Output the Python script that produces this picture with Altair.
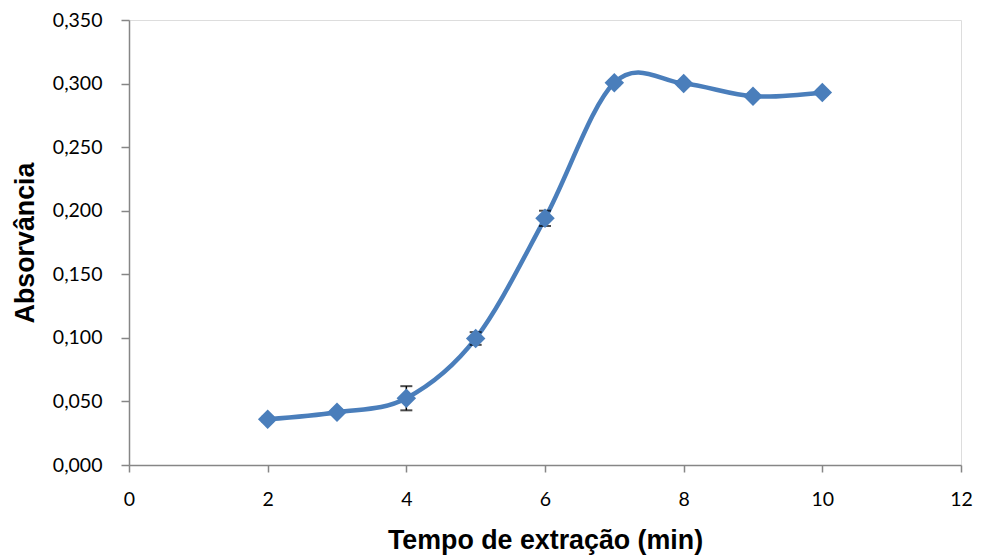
import altair as alt
import pandas as pd

tempo = [2, 3, 4, 5, 6, 7, 8, 9, 10]
absorv = [0.036, 0.0415, 0.0525, 0.0995, 0.194, 0.3007, 0.300, 0.290, 0.293]
erro = [0.002, 0.002, 0.0095, 0.005, 0.006, 0.002, 0.002, 0.002, 0.002]
x_ticks = [0, 2, 4, 6, 8, 10, 12]
y_ticks = [0, 0.05, 0.1, 0.15, 0.2, 0.25, 0.3, 0.35]

df = pd.DataFrame({"t": tempo, "a": absorv, "e": erro})
df["lo"] = df["a"] - df["e"]
df["hi"] = df["a"] + df["e"]

color = "#4a7ebb"
font = "Lato"
tfont = "Liberation Sans"

xaxis = alt.Axis(values=x_ticks, title="Tempo de extração (min)", format="d",
                 titleFont=tfont, titleFontSize=26.8, titleFontWeight="bold",
                 titleColor="black", labelFont=font, labelFontSize=19.5, labelColor="black",
                 domainColor="#868686", domainWidth=1.5, tickColor="#868686", tickSize=7,
                 tickWidth=1.5, grid=False, labelPadding=18, labelFlush=False,
                 titleY=75, titleBaseline="middle")
yaxis = alt.Axis(values=y_ticks,
                 labelExpr="replace(format(datum.value, '.3f'), '.', ',')",
                 title="Absorvância", titleFont=tfont, titleFontSize=26.8,
                 titleFontWeight="bold", titleColor="black", labelFont=font,
                 labelFontSize=19.5, labelColor="black", domainColor="#868686", domainWidth=1.5,
                 tickColor="#868686", tickSize=8, tickWidth=1.5, grid=False, labelPadding=19,
                 labelFlush=False, titleX=-104, titleBaseline="middle")

xs = alt.Scale(domain=[0, 12], nice=False)
ys = alt.Scale(domain=[0, 0.35], nice=False)

base = alt.Chart(df)
line = base.mark_line(color=color, strokeWidth=4.5, interpolate="cardinal").encode(
    x=alt.X("t:Q", scale=xs, axis=xaxis), y=alt.Y("a:Q", scale=ys, axis=yaxis))
rule = base.mark_rule(color="black", strokeWidth=1.5).encode(
    x=alt.X("t:Q", scale=xs, axis=xaxis), y=alt.Y("lo:Q", scale=ys, axis=yaxis), y2="hi:Q")
cap_lo = base.mark_tick(color="black", orient="horizontal", size=12, thickness=2).encode(
    x=alt.X("t:Q", scale=xs, axis=xaxis), y=alt.Y("lo:Q", scale=ys, axis=yaxis))
cap_hi = base.mark_tick(color="black", orient="horizontal", size=12, thickness=2).encode(
    x=alt.X("t:Q", scale=xs, axis=xaxis), y=alt.Y("hi:Q", scale=ys, axis=yaxis))
pts = base.mark_point(shape="diamond", filled=True, size=380, color=color, opacity=1).encode(
    x=alt.X("t:Q", scale=xs, axis=xaxis), y=alt.Y("a:Q", scale=ys, axis=yaxis))

chart = alt.layer(line, rule, cap_lo, cap_hi, pts).properties(
    width=832, height=445,
    autosize=alt.AutoSizeParams(type="none"),
    padding={"left": 121, "top": 12, "right": 12, "bottom": 92},
).configure_view(stroke="#404040", strokeWidth=1.5).configure(background="white")

chart.save("out.html", embed_options={"renderer": "svg", "actions": False})
